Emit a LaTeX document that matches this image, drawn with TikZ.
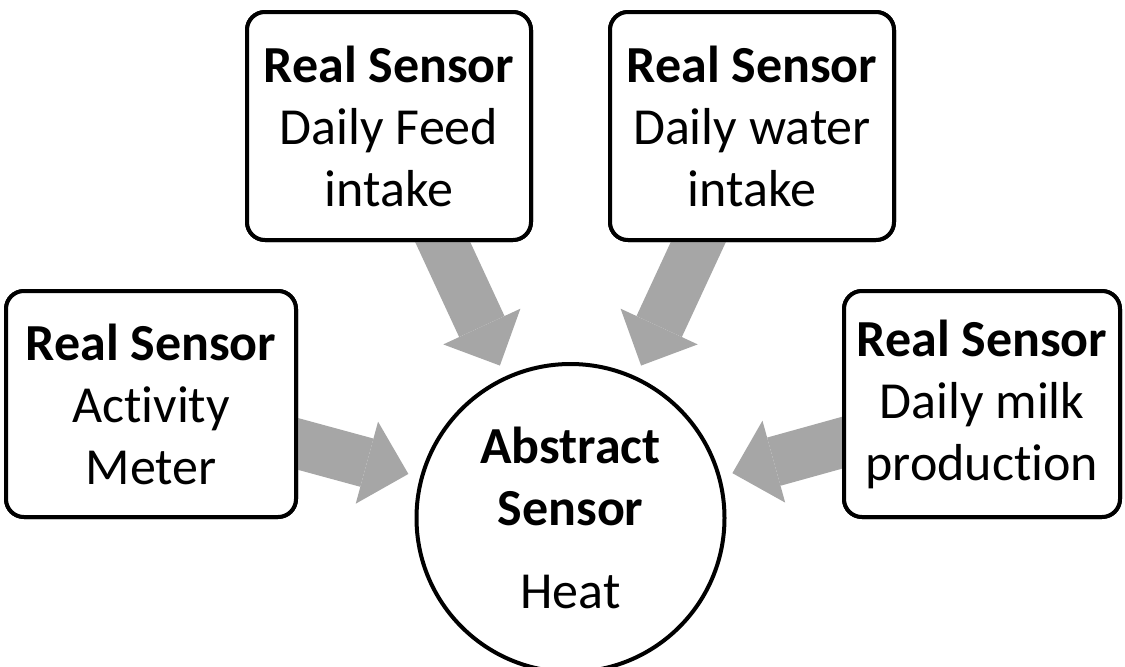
\documentclass[tikz,border=0pt]{standalone}
\usepackage{fontspec}
\setmainfont[Ligatures={NoCommon,NoContextual}]{Carlito}
\usetikzlibrary{arrows.meta}
\definecolor{arrowgray}{RGB}{166,166,166}
\tikzset{
  sensorbox/.style={draw=black, line width=2pt, fill=white, rounded corners=9pt,
    inner sep=0pt, align=center, font=\fontsize{26}{31}\selectfont},
  abstractnode/.style={draw=black, line width=2pt, fill=white, circle,
    minimum size=154pt, inner sep=0pt, align=center, font=\fontsize{26}{31}\selectfont},
  bigarrow/.style={draw=arrowgray, line width=25pt,
    -{Triangle[width=42.5pt,length=21.5pt,line width=0pt]},
    shorten >=6pt, shorten <=-6pt}
}
\begin{document}
\begin{tikzpicture}[x=0.5pt,y=-0.5pt]
\useasboundingbox (0,0) rectangle (1125,666);
% nodes (placed first so that the arrows can be drawn between them)
\node[abstractnode] (c) at (570.5,518) {\textbf{Abstract}\\\textbf{Sensor}\\[10.5pt]Heat};
\node[sensorbox, minimum width=145pt, minimum height=113pt] (b1) at (151,404)
  {\textbf{Real Sensor}\\Activity\\Meter};
\node[sensorbox, minimum width=142pt, minimum height=114pt] (b2) at (389,126)
  {\textbf{Real Sensor}\\Daily Feed\\intake};
\node[sensorbox, minimum width=142pt, minimum height=114pt] (b3) at (752,126)
  {\textbf{Real Sensor}\\Daily water\\intake};
\node[sensorbox, minimum width=138pt, minimum height=113pt] (b4) at (982,404)
  {\textbf{Real Sensor}\\Daily milk\\production};
% arrows
\draw[bigarrow] (b1) -- (c);
\draw[bigarrow] (b2) -- (c);
\draw[bigarrow] (b3) -- (c);
\draw[bigarrow] (b4) -- (c);
% boxes again on top of the arrow starts
\node[sensorbox, minimum width=145pt, minimum height=113pt] at (b1.center)
  {\textbf{Real Sensor}\\Activity\\Meter};
\node[sensorbox, minimum width=142pt, minimum height=114pt] at (b2.center)
  {\textbf{Real Sensor}\\Daily Feed\\intake};
\node[sensorbox, minimum width=142pt, minimum height=114pt] at (b3.center)
  {\textbf{Real Sensor}\\Daily water\\intake};
\node[sensorbox, minimum width=138pt, minimum height=113pt] at (b4.center)
  {\textbf{Real Sensor}\\Daily milk\\production};
\end{tikzpicture}
\end{document}
